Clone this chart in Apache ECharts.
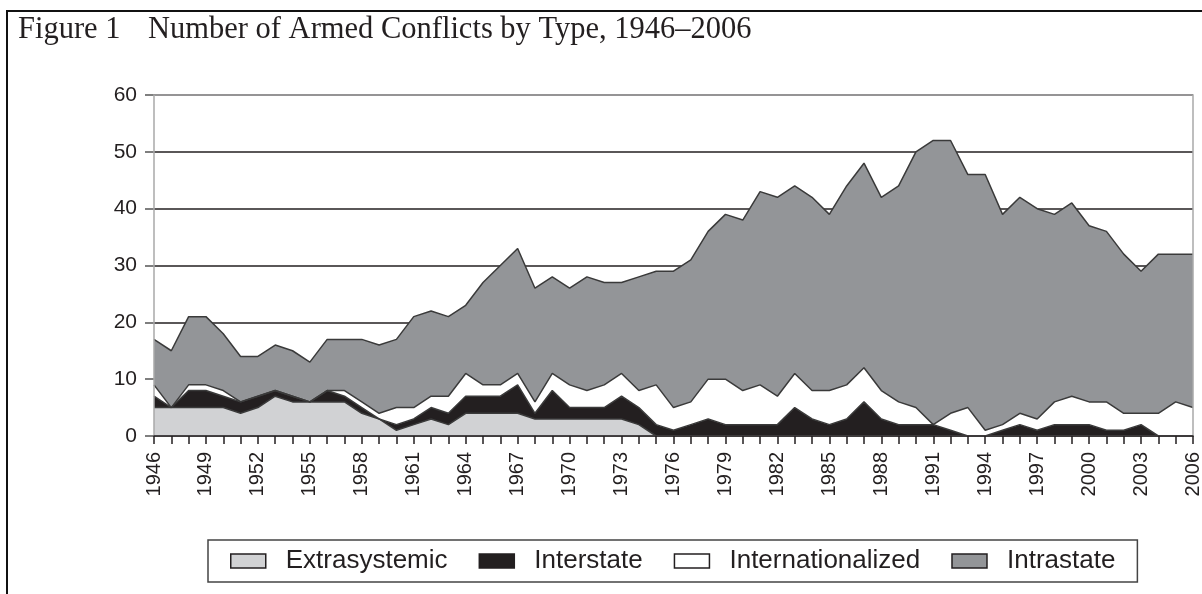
<!DOCTYPE html>
<html lang="en">
<head>
<meta charset="utf-8">
<title>Number of Armed Conflicts by Type, 1946–2006</title>
<script src="https://cdn.jsdelivr.net/npm/echarts@6/dist/echarts.min.js"></script>
<style>
    html, body { margin: 0; padding: 0; background: #fff; }
    #chart { width: 1202px; height: 594px; }
</style>
</head>
<body>
<div id="chart"></div>
<script>
// years on the x axis
var years = ['1946','1947','1948','1949','1950','1951','1952','1953','1954','1955',
             '1956','1957','1958','1959','1960','1961','1962','1963','1964','1965',
             '1966','1967','1968','1969','1970','1971','1972','1973','1974','1975',
             '1976','1977','1978','1979','1980','1981','1982','1983','1984','1985',
             '1986','1987','1988','1989','1990','1991','1992','1993','1994','1995',
             '1996','1997','1998','1999','2000','2001','2002','2003','2004','2005','2006'];

// number of conflicts per type (stacked, bottom to top)
var extrasystemic = [5,5,5,5,5,4,5,7,6,6, 6,6,4,3,1,2,3,2,4,4, 4,4,3,3,3,3,3,3,2,0,
                     0,0,0,0,0,0,0,0,0,0, 0,0,0,0,0,0,0,0,0,0, 0,0,0,0,0,0,0,0,0,0,0];
var interstate = [2,0,3,3,2,2,2,1,1,0, 2,1,1,0,1,1,2,2,3,3, 3,5,1,5,2,2,2,4,3,2,
                  1,2,3,2,2,2,2,5,3,2, 3,6,3,2,2,2,1,0,0,1, 2,1,2,2,2,1,1,2,0,0,0];
var internationalized = [2,0,1,1,1,0,0,0,0,0, 0,1,1,1,3,2,2,3,4,2, 2,2,2,3,4,3,4,4,3,7,
                         4,4,7,8,6,7,5,6,5,6, 6,6,5,4,3,0,3,5,1,1, 2,2,4,5,4,5,3,2,4,6,5];
var intrastate = [8,10,12,12,10,8,7,8,8,7, 9,9,11,12,12,16,15,14,12,18, 21,22,20,17,17,20,18,16,20,20,
                  24,25,26,29,30,34,35,33,34,31, 35,36,34,38,45,50,48,41,45,37, 38,37,33,34,31,30,28,25,28,26,27];

var seriesNames = ['Extrasystemic', 'Interstate', 'Internationalized', 'Intrastate'];
var fills = ['#d1d2d4', '#231f20', '#ffffff', '#939598'];
var values = [extrasystemic, interstate, internationalized, intrastate];

var ink = '#231f20';
var sans = 'Liberation Sans, Arial, sans-serif';

var series = [];
for (var i = 0; i < seriesNames.length; i++) {
    series.push({
        name: seriesNames[i],
        type: 'line',
        stack: 'conflicts',
        data: values[i],
        symbol: 'none',
        color: fills[i],
        itemStyle: { color: fills[i] },
        lineStyle: { color: '#3a3a3a', width: 1.5 },
        areaStyle: { color: fills[i], opacity: 1 },
        emphasis: { disabled: true }
    });
}

var chart = echarts.init(document.getElementById('chart'));
var option = {
    animation: false,
    backgroundColor: '#fff',
    title: {
        left: 13,
        top: 9,
        text: '{a|Figure 1}{b|Number of Armed Conflicts by Type, 1946–2006}',
        textStyle: {
            rich: {
                a: { width: 130, fontSize: 30.5, fontWeight: 'normal', fontFamily: 'Liberation Serif', color: ink },
                b: { fontSize: 30.5, fontWeight: 'normal', fontFamily: 'Liberation Serif', color: ink }
            }
        }
    },
    // frame round the figure
    graphic: [{
        type: 'polyline',
        shape: { points: [[1202, 11], [7, 11], [7, 594]] },
        style: { stroke: '#111', lineWidth: 2, fill: null }
    }],
    legend: {
        left: 208,
        top: 540,
        data: seriesNames,
        icon: 'rect',
        itemWidth: 35,
        itemHeight: 14,
        itemGap: 31,
        padding: [8, 22, 8, 22],
        borderColor: '#444',
        borderWidth: 1.5,
        itemStyle: { borderColor: ink, borderWidth: 1.5 },
        textStyle: { fontSize: 26, fontFamily: sans, color: ink, padding: [0, 0, 0, 15] },
        selectedMode: false
    },
    grid: {
        left: 154,
        right: 9,
        top: 95,
        bottom: 158,
        show: true,
        z: 5,
        borderColor: '#a9a9a9',
        borderWidth: 1.5,
        backgroundColor: 'transparent',
        outerBoundsMode: 'none'
    },
    xAxis: {
        type: 'category',
        data: years,
        boundaryGap: false,
        z: 6,
        axisLine: { lineStyle: { color: ink, width: 1.5 } },
        axisTick: { interval: 0, length: 8, lineStyle: { color: ink, width: 1.5 } },
        axisLabel: { interval: 2, rotate: 90, margin: 16, fontSize: 20, fontFamily: sans, color: ink },
        splitLine: { show: false }
    },
    yAxis: {
        type: 'value',
        min: 0,
        max: 60,
        interval: 10,
        axisLine: { show: false },
        axisTick: { show: true, length: 9, lineStyle: { color: '#555', width: 1.5 } },
        axisLabel: { margin: 17, fontSize: 21, fontFamily: sans, color: ink },
        splitLine: { lineStyle: { color: ink, width: 1.5 } }
    },
    series: series
};
chart.setOption(option);
</script>
</body>
</html>
